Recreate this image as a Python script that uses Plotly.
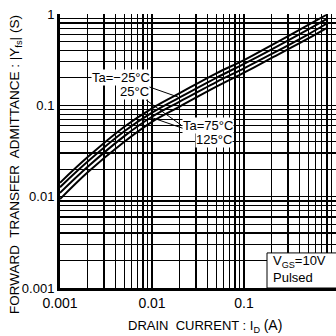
import plotly.graph_objects as go

# ---- data ----
drain_current = [0.001, 0.002, 0.005, 0.01, 0.02, 0.05, 0.1, 0.2, 0.5, 0.78]
yfs_m25 = [0.0142, 0.0271, 0.0582, 0.0927, 0.136, 0.224, 0.313, 0.457, 0.759, 0.975]
yfs_25 = [0.0127, 0.0242, 0.052, 0.083, 0.122, 0.200, 0.284, 0.41, 0.68, 0.875]
yfs_75 = [0.0110, 0.0212, 0.046, 0.075, 0.110, 0.180, 0.254, 0.365, 0.60, 0.777]
yfs_125 = [0.0094, 0.0185, 0.040, 0.066, 0.097, 0.160, 0.228, 0.33, 0.54, 0.697]
series = [("Ta=-25°C", yfs_m25), ("25°C", yfs_25), ("Ta=75°C", yfs_75), ("125°C", yfs_125)]

x_major = [0.001, 0.01, 0.1, 1]
x_major_text = ["0.001", "0.01", "0.1", "1"]
y_major = [0.001, 0.01, 0.1, 1]
y_major_text = ["0.001", "0.01", "0.1", "1"]
minor_vals = [m * d for d in [0.001, 0.01, 0.1] for m in range(2, 10)]

FONT = "Liberation Sans, Arial, sans-serif"

fig = go.Figure()
for name, ys in series:
    fig.add_trace(go.Scatter(x=drain_current, y=ys, mode="lines", name=name,
                             line=dict(color="black", width=2, shape="spline"),
                             showlegend=False, hoverinfo="skip"))

grid_minor = dict(tickmode="array", tickvals=minor_vals, showgrid=True,
                  gridcolor="black", gridwidth=1.3, ticks="")

fig.update_xaxes(type="log", range=[-3, 0], tickmode="array", tickvals=x_major,
                 ticktext=x_major_text, showgrid=True, gridcolor="black", gridwidth=1.5,
                 showline=True, linecolor="black", linewidth=3, ticks="",
                 tickfont=dict(family=FONT, size=14, color="black"),
                 minor=grid_minor, zeroline=False, automargin=False)
fig.update_yaxes(type="log", range=[-3, 0], tickmode="array", tickvals=y_major,
                 ticktext=y_major_text, showgrid=True, gridcolor="black", gridwidth=1.5,
                 showline=True, linecolor="black", linewidth=3, ticks="",
                 tickfont=dict(family=FONT, size=13, color="black"),
                 minor=grid_minor, zeroline=False, automargin=False)

ann_font = dict(family=FONT, size=13, color="black")
annotations = [
    dict(x=-1.717, y=-0.909, text="Ta=−25°C", ax=-57, ay=-20),
    dict(x=-1.685, y=-1.215, text="25°C", ax=-46, ay=-33),
    dict(x=-1.989, y=-1.139, text="125°C", ax=61, ay=21),
]
for a in annotations:
    fig.add_annotation(x=a["x"], y=a["y"], xref="x", yref="y", text=a["text"],
                       ax=a["ax"], ay=a["ay"], showarrow=True, arrowhead=0,
                       arrowwidth=1, arrowcolor="black", standoff=0,
                       bgcolor="white", borderpad=0, font=ann_font)
fig.add_annotation(x=-1.391, y=-1.226, xref="x", yref="y", text="Ta=75°C",
                   showarrow=False, bgcolor="white", borderpad=0, font=ann_font)

# condition box
fig.add_shape(type="rect", xref="paper", yref="paper", x0=0.75, x1=1.02, y0=0, y1=0.128,
              line=dict(color="black", width=1), fillcolor="white", layer="above")
fig.add_annotation(xref="paper", yref="paper", x=0.75, y=0, xanchor="left", yanchor="bottom",
                   xshift=4, yshift=1, showarrow=False, align="left",
                   text="V<sub>GS</sub>=10V<br>Pulsed", font=dict(family=FONT, size=13, color="black"))

# axis titles
fig.add_annotation(xref="paper", yref="paper", x=0.5, y=0, xshift=7, yshift=-38,
                   yanchor="middle", showarrow=False,
                   text="DRAIN  CURRENT : I<sub>D</sub> <span style='font-size:14px'>(A)</span>",
                   font=dict(family=FONT, size=13, color="black"))
fig.add_annotation(xref="paper", yref="paper", x=0, y=0.5, xshift=-45, yshift=-14,
                   xanchor="center", yanchor="middle", textangle=-90, showarrow=False,
                   text="FORWARD  TRANSFER  ADMITTANCE : |Y<sub>fs</sub>| (S)",
                   font=dict(family=FONT, size=13.5, color="black"))

fig.update_layout(width=336, height=336, margin=dict(l=60, r=0, t=14, b=48),
                  paper_bgcolor="white", plot_bgcolor="white", hovermode=False)

fig.write_html("out.html", config={"displayModeBar": False, "staticPlot": True},
               post_script="document.body.style.margin='0';")
